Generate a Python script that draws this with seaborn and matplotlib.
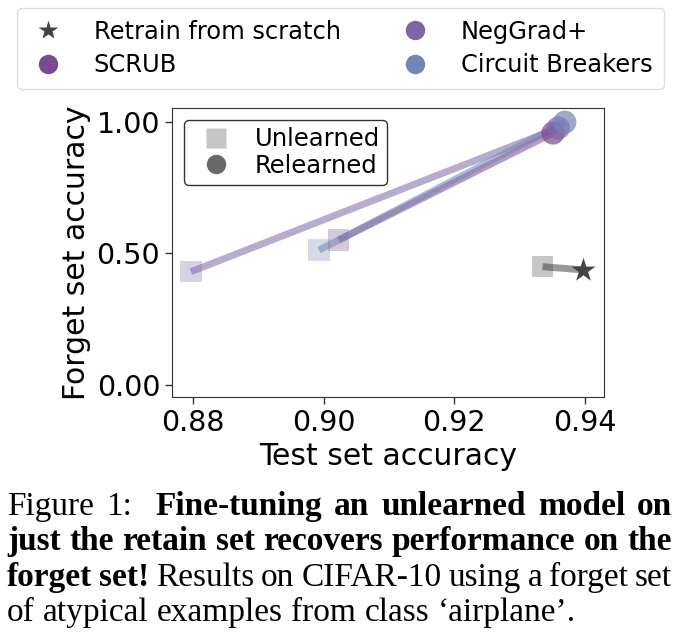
import pandas as pd
import matplotlib
matplotlib.use("Agg")
from matplotlib import pyplot as plt
from matplotlib.lines import Line2D
import seaborn as sns

# values
methods = ["Retrain from scratch", "SCRUB", "NegGrad+", "Circuit Breakers"]
colors = ["#444444", "#7a4a8e", "#7c67a6", "#7484b4"]
unlearned_test = [0.9335, 0.9023, 0.8797, 0.8993]
unlearned_forget = [0.449, 0.550, 0.430, 0.512]
relearned_test = [0.9397, 0.9351, 0.9359, 0.9369]
relearned_forget = [0.437, 0.957, 0.976, 0.998]

x_ticks = [0.88, 0.90, 0.92, 0.94]
y_ticks = [0.00, 0.50, 1.00]

caption = [
    [("Figure 1:", "normal", 12), ("Fine-tuning an unlearned model on", "bold", 0)],
    [("just the retain set recovers performance on the", "bold", 0)],
    [("forget set!", "bold", 0), ("Results on CIFAR-10 using a forget set", "normal", 0)],
    [("of atypical examples from class \u2018airplane\u2019.", "normal", 0)],
]

sns.set_style("ticks")
plt.rcParams["font.family"] = ["DejaVu Sans"]
for key in ["text.color", "axes.labelcolor", "xtick.color", "ytick.color"]:
    plt.rcParams[key] = "black"

palette = dict(zip(methods, colors))
df_u = pd.DataFrame({"method": methods, "test": unlearned_test, "forget": unlearned_forget})
df_r = pd.DataFrame({"method": methods, "test": relearned_test, "forget": relearned_forget})

fig = plt.figure(figsize=(6.8, 6.44), dpi=100)
ax = fig.add_axes([172 / 680, 1 - 397 / 644, 432 / 680, 289 / 644])

# connecting lines unlearned -> relearned
for i, m in enumerate(methods):
    ax.plot([unlearned_test[i], relearned_test[i]],
            [unlearned_forget[i], relearned_forget[i]],
            color=colors[i], alpha=0.55, lw=5, solid_capstyle="butt", zorder=2)

sns.scatterplot(data=df_u, x="test", y="forget", hue="method", palette=palette,
                marker="s", s=240, alpha=0.3, linewidth=0, legend=False, ax=ax, zorder=1)
sns.scatterplot(data=df_r[df_r.method != methods[0]], x="test", y="forget", hue="method",
                palette=palette, marker="o", s=280, alpha=0.7, linewidth=0,
                legend=False, ax=ax, zorder=3)
sns.scatterplot(data=df_r[df_r.method == methods[0]], x="test", y="forget", color=colors[0],
                marker="*", s=330, linewidth=0, legend=False, ax=ax, zorder=3)

ax.set_xlim(0.8768, 0.9429)
ax.set_ylim(-0.046, 1.052)
ax.set_xticks(x_ticks)
ax.set_yticks(y_ticks)
ax.set_xticklabels([f"{v:.2f}" for v in x_ticks])
ax.set_yticklabels([f"{v:.2f}" for v in y_ticks])
ax.tick_params(labelsize=20.5, length=5, width=1, color="#333333")
for sp in ax.spines.values():
    sp.set_color("#333333")
ax.set_xlabel("Test set accuracy", fontsize=21.5, labelpad=4)
ax.set_ylabel("Forget set accuracy", fontsize=21.5, labelpad=4)

inner = [
    Line2D([], [], ls="", marker="s", ms=14, color="#444444", alpha=0.3, mec="none"),
    Line2D([], [], ls="", marker="o", ms=14, color="#444444", alpha=0.8, mec="none"),
]
leg = ax.legend(inner, ["Unlearned", "Relearned"], loc="upper left", fontsize=17.5,
                frameon=True, fancybox=True, edgecolor="#333333", framealpha=1,
                handletextpad=0.6, borderaxespad=0.5, labelspacing=0.1, borderpad=0.3)
leg.get_frame().set_linewidth(1)

top = [Line2D([], [], ls="", marker="*", ms=15, color=colors[0], mec="none")]
top += [Line2D([], [], ls="", marker="o", ms=14, color=c, mec="none") for c in colors[1:]]
fig.legend(top, methods, loc="upper left", ncol=2,
           bbox_to_anchor=(17 / 680, 1 - 8 / 644), fontsize=17.4,
           frameon=True, edgecolor="#dddddd", framealpha=1, handletextpad=1.1,
           handlelength=1.6, columnspacing=2.26, labelspacing=0.4, borderpad=0.48,
           borderaxespad=0)

# caption, justified word by word
fig.canvas.draw()
rend = fig.canvas.get_renderer()
W, H = fig.bbox.width, fig.bbox.height
x_left, x_right = 7, 672
baselines = [515, 550, 586, 621]
cap_size = 24
for k, line in enumerate(caption):
    words = []
    for text, weight, extra in line:
        parts = text.split()
        for j, w in enumerate(parts):
            words.append((w, weight, extra if j == len(parts) - 1 else 0))
    arts = []
    for w, weight, _ in words:
        t = fig.text(0, 1 - baselines[k] / H, w, fontsize=cap_size, fontweight=weight,
                     family="Liberation Serif", va="baseline", ha="left")
        arts.append(t)
    widths = [a.get_window_extent(rend).width for a in arts]
    extras = sum(e for _, _, e in words[:-1])
    if k < len(caption) - 1:
        gap = (x_right - x_left - sum(widths) - extras) / (len(words) - 1)
    else:
        gap = cap_size * 0.25 * 100 / 72
    x = x_left
    for a, wd, (_, _, e) in zip(arts, widths, words):
        a.set_x(x / W)
        x += wd + gap + e

fig.savefig("out.png", dpi=100)
